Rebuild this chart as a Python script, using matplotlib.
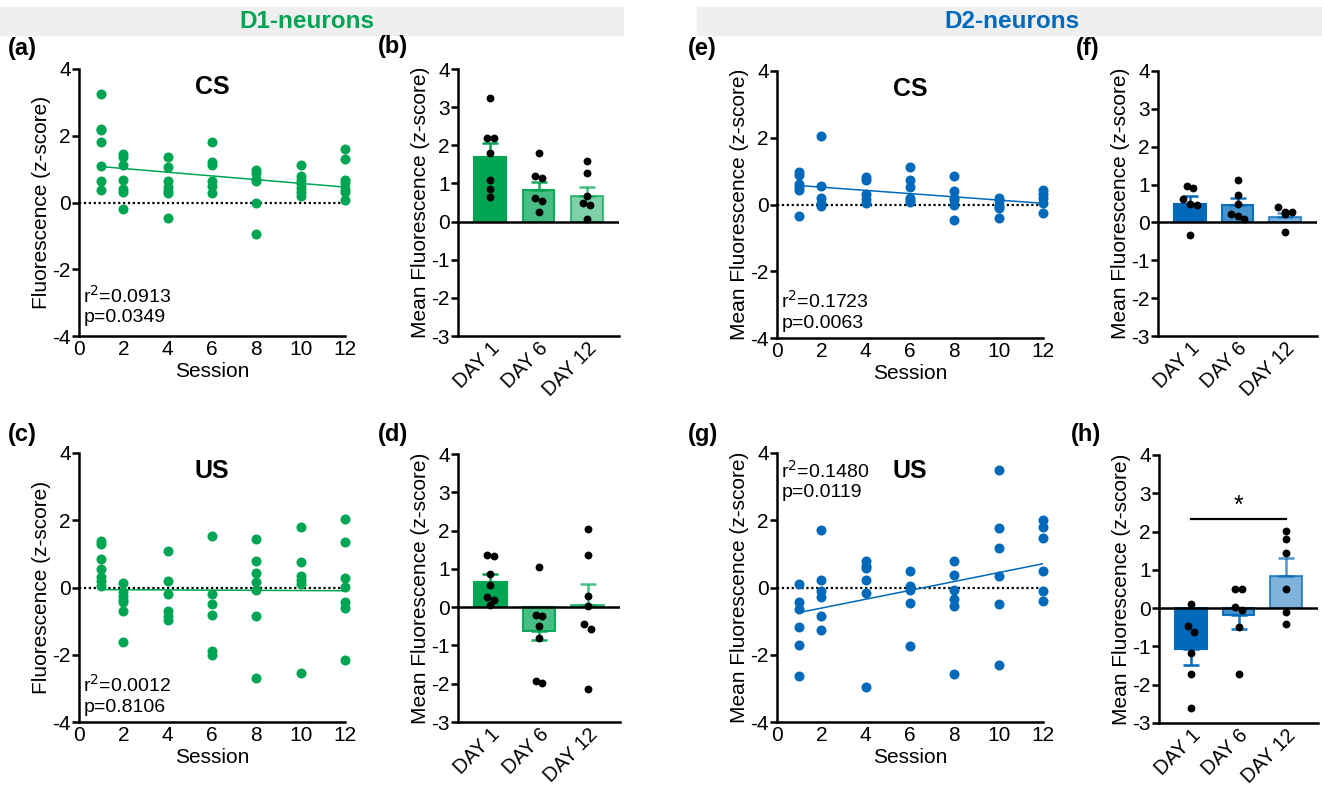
import numpy as np
import matplotlib
matplotlib.use("Agg")
import matplotlib.pyplot as plt
from matplotlib.patches import Rectangle

plt.rcParams['font.family'] = ['Liberation Sans', 'DejaVu Sans']
plt.rcParams['axes.unicode_minus'] = False

W, H = 1322, 786
GREEN = '#00A554'
BLUE = '#0069BA'

sessions = [1, 2, 4, 6, 8, 10, 12]
days = ['DAY 1', 'DAY 6', 'DAY 12']

# ---- per-session z-scores (scatter panels) ----
d1_cs = [
    [3.26, 2.20, 2.17, 1.80, 1.10, 0.65, 0.38],
    [1.46, 1.36, 1.11, 0.68, 0.40, 0.30, -0.19],
    [1.36, 1.05, 0.63, 0.45, 0.33, 0.27, -0.45],
    [1.81, 1.21, 1.13, 0.63, 0.50, 0.28],
    [0.98, 0.88, 0.70, 0.63, 0.00, -0.93],
    [1.13, 0.80, 0.67, 0.55, 0.43, 0.30, 0.20],
    [1.60, 1.29, 0.68, 0.57, 0.40, 0.30, 0.08],
]
d1_us = [
    [1.37, 1.30, 0.86, 0.55, 0.30, 0.18, 0.04],
    [0.14, -0.13, -0.26, -0.36, -0.43, -0.71, -1.62],
    [1.08, 0.20, -0.18, -0.71, -0.84, -0.96],
    [1.52, -0.18, -0.48, -0.81, -1.90, -2.00],
    [1.43, 0.79, 0.43, 0.17, -0.08, -0.84, -2.70],
    [1.81, 0.77, 0.35, 0.23, 0.09, -2.54],
    [2.03, 1.35, 0.29, 0.02, -0.43, -0.61, -2.15],
]
d2_cs = [
    [0.97, 0.87, 0.62, 0.52, 0.42, -0.34],
    [2.06, 0.56, 0.20, 0.05, -0.03],
    [0.82, 0.72, 0.32, 0.16, 0.05],
    [1.12, 0.72, 0.52, 0.20, 0.12, 0.06],
    [0.85, 0.40, 0.20, 0.12, 0.00, -0.47],
    [0.19, 0.09, -0.03, -0.10, -0.40],
    [0.42, 0.32, 0.20, 0.05, -0.25],
]
d2_us = [
    [0.11, -0.44, -0.63, -1.17, -1.71, -2.62],
    [1.71, 0.21, -0.09, -0.28, -0.86, -1.27],
    [0.80, 0.65, 0.58, 0.21, -0.15, -2.96],
    [0.49, 0.03, -0.06, -0.46, -1.73],
    [0.78, 0.38, -0.06, -0.33, -0.54, -2.58],
    [3.50, 1.78, 1.17, 0.35, -0.49, -2.31],
    [2.02, 1.81, 1.47, 0.50, -0.09, -0.41],
]
stats_d1_cs = ['r$^2$=0.0913', 'p=0.0349']
stats_d1_us = ['r$^2$=0.0012', 'p=0.8106']
stats_d2_cs = ['r$^2$=0.1723', 'p=0.0063']
stats_d2_us = ['r$^2$=0.1480', 'p=0.0119']

# ---- day means (bar panels) ----
d1_cs_mean = [1.69, 0.84, 0.68]
d1_cs_sem = [0.36, 0.21, 0.22]
d1_cs_pts = [
    [3.25, 2.18, 2.18, 1.79, 1.08, 0.85, 0.64],
    [1.79, 1.19, 1.13, 0.61, 0.54, 0.24],
    [1.59, 1.28, 0.66, 0.48, 0.43, 0.07],
]
d1_us_mean = [0.66, -0.63, 0.05]
d1_us_sem = [0.21, 0.22, 0.55]
d1_us_pts = [
    [1.37, 1.33, 0.87, 0.57, 0.27, 0.19, 0.06],
    [1.05, -0.20, -0.23, -0.48, -0.80, -1.93, -1.97],
    [2.04, 1.37, 0.30, 0.02, -0.43, -0.58, -2.15],
]
d2_cs_mean = [0.50, 0.47, 0.14]
d2_cs_sem = [0.21, 0.17, 0.12]
d2_cs_pts = [
    [0.97, 0.91, 0.61, 0.50, 0.45, -0.33],
    [1.12, 0.73, 0.50, 0.22, 0.18, 0.10],
    [0.42, 0.28, 0.28, 0.23, -0.26],
]
d2_us_mean = [-1.08, -0.18, 0.85]
d2_us_sem = [0.41, 0.37, 0.47]
d2_us_pts = [
    [0.11, -0.47, -0.63, -1.17, -1.71, -2.62],
    [0.50, 0.50, 0.02, -0.04, -0.48, -1.73],
    [2.01, 1.81, 1.45, 0.50, -0.10, -0.41],
]

bar_alpha = [1.0, 0.72, 0.5]
FS = 15


def px_axes(fig, x0, y0, x1, y1):
    return fig.add_axes([x0 / W, 1 - y1 / H, (x1 - x0) / W, (y1 - y0) / H])


def style(ax):
    for s in ['top', 'right']:
        ax.spines[s].set_visible(False)
    for s in ['left', 'bottom']:
        ax.spines[s].set_linewidth(1.8)
    ax.tick_params(axis='both', labelsize=FS, width=1.8, length=5, pad=1)


def scatter_panel(ax, data, color, title, stats, stats_y):
    style(ax)
    xs = np.concatenate([[s] * len(v) for s, v in zip(sessions, data)])
    ys = np.concatenate(data)
    ax.axhline(0, color='black', lw=1.6, ls=(0, (1, 1.2)), zorder=1)
    ax.scatter(xs, ys, s=52, color=color, zorder=3, clip_on=False, linewidths=0)
    k, b = np.polyfit(xs, ys, 1)
    xl = np.array([1, 12])
    ax.plot(xl, k * xl + b, color=color, lw=1.1, zorder=2)
    ax.set_xlim(0, 12)
    ax.set_ylim(-4, 4)
    ax.set_xticks(range(0, 13, 2))
    ax.set_yticks([-4, -2, 0, 2, 4])
    ax.tick_params(axis='x', length=0, pad=3)
    ax.set_xlabel('Session', fontsize=FS, labelpad=2)
    ax.text(6, 3.45, title, fontsize=18, fontweight='bold', ha='center', va='center')
    ax.text(0.2, stats_y, stats[0], fontsize=14, va='center')
    ax.text(0.2, stats_y - 0.66, stats[1], fontsize=14, va='center')


def swarm(vals, dy=0.17, dx=0.14):
    vals = np.asarray(vals)
    order = np.argsort(-vals, kind='stable')
    offs = np.zeros(len(vals))
    rows = []
    for i in order:
        if rows and abs(vals[rows[-1][0]] - vals[i]) < dy:
            rows[-1].append(i)
        else:
            rows.append([i])
    for r in rows:
        n = len(r)
        for j, i in enumerate(r):
            offs[i] = (j - (n - 1) / 2) * dx
    return offs


def bar_panel(ax, means, sems, pts, color):
    style(ax)
    x = np.arange(len(days))
    for i in x:
        a = bar_alpha[i]
        ea = min(1.0, a + 0.2)
        ax.bar(i, means[i], width=0.66, color=matplotlib.colors.to_rgba(color, a),
               edgecolor=matplotlib.colors.to_rgba(color, ea), linewidth=1.5, zorder=2)
        if means[i] >= 0:
            yerr = [[0], [sems[i]]]
        else:
            yerr = [[sems[i]], [0]]
        ax.errorbar(i, means[i], yerr=yerr, color=matplotlib.colors.to_rgba(color, ea),
                    lw=1.8, capsize=6, capthick=1.8, zorder=3)
        off = swarm(pts[i])
        ax.scatter(i + off, pts[i], s=32, color='black', zorder=5, linewidths=0)
    ax.axhline(0, color='black', lw=1.8, zorder=4)
    ax.set_xlim(-0.67, 2.67)
    ax.set_ylim(-3, 4)
    ax.set_yticks(range(-3, 5))
    ax.set_xticks(x)
    ax.set_xticklabels(days, rotation=45, ha='right', rotation_mode='anchor')
    ax.tick_params(axis='x', length=0, pad=2, labelsize=14.5)
    ax.set_ylabel('Mean Fluorescence (z-score)', fontsize=FS, labelpad=1)


fig = plt.figure(figsize=(W / 100, H / 100), dpi=100)

# group headers
fig.add_artist(Rectangle((0, 1 - 35 / H), 623 / W, 28 / H, transform=fig.transFigure,
                         color='#EFEFEF', zorder=0))
fig.add_artist(Rectangle((697 / W, 1 - 35 / H), 625 / W, 28 / H, transform=fig.transFigure,
                         color='#EFEFEF', zorder=0))
fig.text(307 / W, 1 - 21 / H, 'D1-neurons', color=GREEN, fontsize=17.5, fontweight='bold',
         ha='center', va='center')
fig.text(1012 / W, 1 - 21 / H, 'D2-neurons', color=BLUE, fontsize=17.5, fontweight='bold',
         ha='center', va='center')

ax_a = px_axes(fig, 79, 69, 345, 336)
scatter_panel(ax_a, d1_cs, GREEN, 'CS', stats_d1_cs, -2.8)
ax_a.set_ylabel('Fluorescence (z-score)', fontsize=FS, labelpad=1)

ax_c = px_axes(fig, 79, 453, 345, 722)
scatter_panel(ax_c, d1_us, GREEN, 'US', stats_d1_us, -2.9)
ax_c.set_ylabel('Fluorescence (z-score)', fontsize=FS, labelpad=1)

ax_e = px_axes(fig, 777, 71, 1043, 338)
scatter_panel(ax_e, d2_cs, BLUE, 'CS', stats_d2_cs, -2.9)
ax_e.set_ylabel('Mean Fluorescence (z-score)', fontsize=FS, labelpad=1)

ax_g = px_axes(fig, 777, 453, 1043, 722)
scatter_panel(ax_g, d2_us, BLUE, 'US', stats_d2_us, 3.48)
ax_g.set_ylabel('Mean Fluorescence (z-score)', fontsize=FS, labelpad=1)

ax_b = px_axes(fig, 458, 69, 619, 336)
bar_panel(ax_b, d1_cs_mean, d1_cs_sem, d1_cs_pts, GREEN)
ax_d = px_axes(fig, 458, 454, 620, 722)
bar_panel(ax_d, d1_us_mean, d1_us_sem, d1_us_pts, GREEN)
ax_f = px_axes(fig, 1158, 71, 1317, 336)
bar_panel(ax_f, d2_cs_mean, d2_cs_sem, d2_cs_pts, BLUE)
ax_h = px_axes(fig, 1159, 455, 1318, 723)
bar_panel(ax_h, d2_us_mean, d2_us_sem, d2_us_pts, BLUE)

# significance DAY 1 vs DAY 12
ax_h.plot([0, 2], [2.34, 2.34], color='black', lw=1.6)
ax_h.text(1, 2.36, '*', fontsize=18, ha='center', va='bottom')

# panel letters
for lab, (px, py) in {'(a)': (8, 49), '(b)': (378, 47), '(c)': (8, 435), '(d)': (378, 435),
                      '(e)': (688, 48), '(f)': (1076, 48), '(g)': (688, 435),
                      '(h)': (1071, 435)}.items():
    fig.text(px / W, 1 - py / H, lab, fontsize=17, fontweight='bold', ha='left', va='center')

fig.savefig('out.png', dpi=100)
